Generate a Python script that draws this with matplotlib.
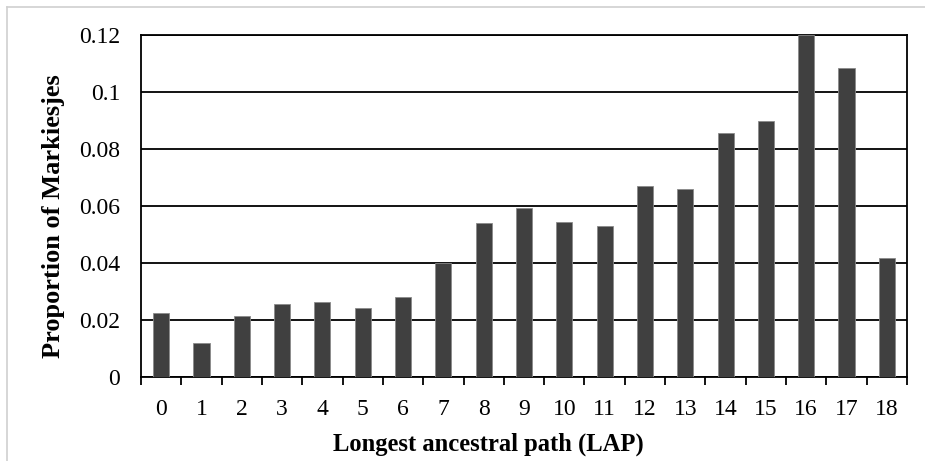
import matplotlib
matplotlib.use("Agg")
import matplotlib.pyplot as plt
from matplotlib.lines import Line2D

categories = [str(i) for i in range(19)]
values = [0.0226, 0.0120, 0.0215, 0.0255, 0.0262, 0.0241, 0.0282, 0.0400,
          0.0540, 0.0593, 0.0544, 0.0530, 0.0670, 0.0661, 0.0855, 0.0897,
          0.1200, 0.1084, 0.0418]
yticks = [0, 0.02, 0.04, 0.06, 0.08, 0.1, 0.12]
ytick_labels = ["0", "0.02", "0.04", "0.06", "0.08", "0.1", "0.12"]

plt.rcParams['font.family'] = ['Liberation Serif', 'DejaVu Serif']

W, H = 925, 461
FS = 17
fig = plt.figure(figsize=(W/100, H/100), dpi=100)
ax = fig.add_axes([141/W, 1-377/H, (907-141)/W, (377-35)/H])

x = list(range(len(categories)))
ax.bar(x, values, width=0.4, color='#404040', edgecolor='#8a8a8a', linewidth=0.6, zorder=3)
ax.set_xlim(-0.5, len(categories)-0.5)
ax.set_ylim(0, 0.12)
ax.set_yticks(yticks)
ax.set_yticklabels(ytick_labels, fontsize=FS)
ax.yaxis.grid(True, color='black', linewidth=1.3, zorder=1)
ax.set_axisbelow(True)

# ticks at category boundaries, labels at centers
ax.set_xticks([i - 0.5 for i in range(len(categories)+1)])
ax.set_xticklabels([])
ax.set_xticks(x, minor=True)
ax.set_xticklabels(categories, minor=True, fontsize=FS)
ax.tick_params(axis='x', which='major', direction='out', length=6, width=1.3)
ax.tick_params(axis='x', which='minor', length=0, pad=16)
ax.tick_params(axis='y', length=0, pad=15)

for s in ['left', 'bottom', 'top', 'right']:
    ax.spines[s].set_linewidth(1.3)
    ax.spines[s].set_color('black')

ax.set_xlabel("Longest ancestral path (LAP)", fontsize=17.7, fontweight='bold', labelpad=9)
ax.set_ylabel("Proportion of Markiesjes", fontsize=19, fontweight='bold', labelpad=10)
ax.xaxis.label.set_x((488 - 141) / 766)
ax.yaxis.label.set_y((377 - 216) / 342)

# light frame around the chart area (left and top edges visible)
fig.add_artist(Line2D([7/W, 7/W], [0, 1-7/H], color='#d0d0d0', linewidth=1.2))
fig.add_artist(Line2D([7/W, 1], [1-7/H, 1-7/H], color='#d0d0d0', linewidth=1.2))

fig.savefig("out.png", dpi=100)
